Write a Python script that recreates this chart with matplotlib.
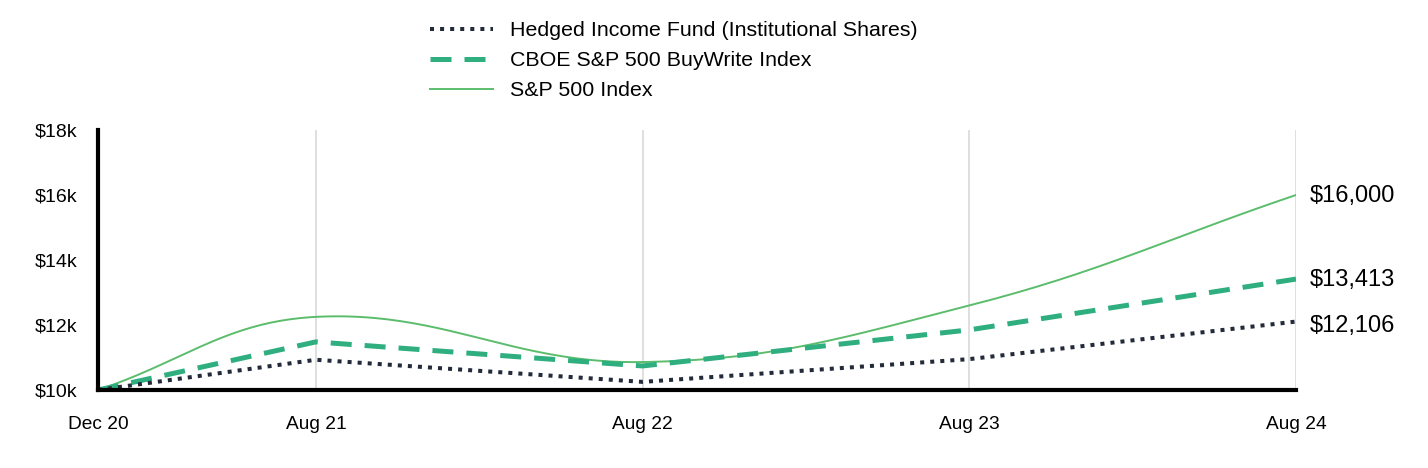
import matplotlib.pyplot as plt
import numpy as np

plt.rcParams['font.family'] = ['Liberation Sans', 'DejaVu Sans']

# months since Dec 20
months = [0, 8, 20, 32, 44]
tick_labels = ["Dec 20", "Aug 21", "Aug 22", "Aug 23", "Aug 24"]

fund = [10000, 10930, 10250, 10950, 12106]
buywrite = [10000, 11480, 10740, 11850, 13413]
sp500 = [10000, 12250, 10860, 12600, 16000]

end_labels = ["$12,106", "$13,413", "$16,000"]
label_shift = [-3, 0, 0]  # points


def spline_path(ax, xs, ys, tension=0.4, n=50):
    # bezier spline through the points, control points worked out in pixel space
    pts = ax.transData.transform(np.column_stack([xs, ys]))
    k = len(pts)
    before = np.zeros_like(pts)
    after = np.zeros_like(pts)
    for i in range(k):
        prev = pts[max(i - 1, 0)]
        nxt = pts[min(i + 1, k - 1)]
        d01 = np.hypot(*(pts[i] - prev))
        d12 = np.hypot(*(nxt - pts[i]))
        s01 = d01 / (d01 + d12)
        s12 = d12 / (d01 + d12)
        before[i] = pts[i] - tension * s01 * (nxt - prev)
        after[i] = pts[i] + tension * s12 * (nxt - prev)
    u = np.linspace(0, 1, n)[:, None]
    out = []
    for i in range(k - 1):
        b = (1 - u) ** 3 * pts[i] + 3 * (1 - u) ** 2 * u * after[i] \
            + 3 * (1 - u) * u ** 2 * before[i + 1] + u ** 3 * pts[i + 1]
        out.append(b)
    out = ax.transData.inverted().transform(np.vstack(out))
    return out[:, 0], out[:, 1]


fig = plt.figure(figsize=(14.28, 4.68), dpi=100)
ax = fig.add_axes([98 / 1428, 1 - 390 / 468, 1198 / 1428, 260 / 468])
ax.set_xlim(0, 44)
ax.set_ylim(10000, 18000)

for m in months[1:]:
    ax.axvline(m, color="#d9d9d9", lw=1.2, zorder=0)

sx, sy = spline_path(ax, months, sp500)
ax.plot(sx, sy, color="#5bbd6c", lw=1.4, label="S&P 500 Index", zorder=2)
ax.plot(months, buywrite, color="#2fae7f", lw=3.6, dashes=(4.2, 2.6), label="CBOE S&P 500 BuyWrite Index", zorder=3)
ax.plot(months, fund, color="#232b3a", lw=2.9, dashes=(1, 1.5), label="Hedged Income Fund (Institutional Shares)", zorder=4)

ax.set_yticks([10000, 12000, 14000, 16000, 18000])
ax.set_yticklabels(["$10k", "$12k", "$14k", "$16k", "$18k"])
ax.set_xticks(months)
ax.set_xticklabels(tick_labels)
ax.tick_params(axis="y", length=0, pad=15, labelsize=14)
ax.tick_params(axis="x", length=0, pad=19, labelsize=13.8)

for s in ["top", "right"]:
    ax.spines[s].set_visible(False)
for s in ["left", "bottom"]:
    ax.spines[s].set_linewidth(3)
    ax.spines[s].set_color("black")
    ax.spines[s].set_zorder(5)

for val, lab, dy in zip([fund[-1], buywrite[-1], sp500[-1]], end_labels, label_shift):
    ax.annotate(lab, (44, val), xytext=(10, dy - 0.5), textcoords="offset points",
                fontsize=17, va="center", ha="left", annotation_clip=False)

h, l = ax.get_legend_handles_labels()
fig.legend(h[::-1], l[::-1], loc="upper left", bbox_to_anchor=(430 / 1428, 1 - 21 / 468),
           frameon=False, fontsize=15.4, handlelength=2.95, handletextpad=0.8,
           labelspacing=0.52, borderpad=0, borderaxespad=0)

fig.savefig("out.png", dpi=100)
